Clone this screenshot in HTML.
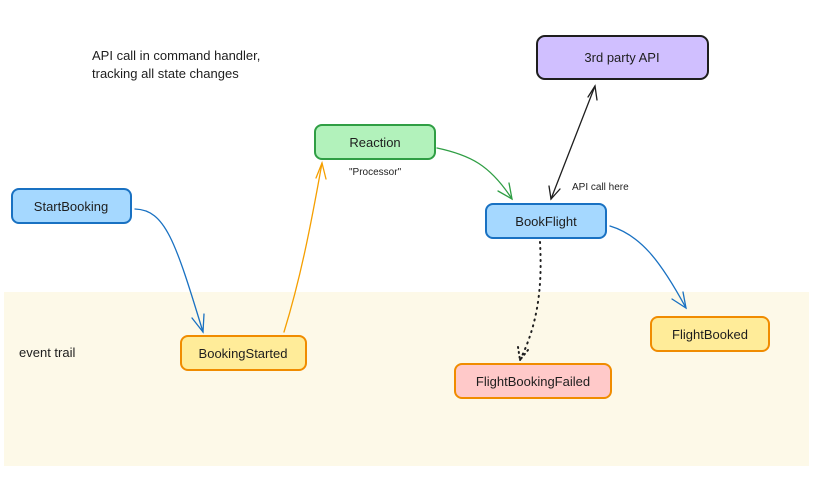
<!DOCTYPE html>
<html><head><meta charset="utf-8"><style>
html,body{margin:0;padding:0;background:#fff;}
body{width:814px;height:488px;overflow:hidden;}
svg text{font-family:"Liberation Sans",sans-serif;fill:#1e1e1e;}
</style></head><body>
<svg width="814" height="488" viewBox="0 0 814 488" xmlns="http://www.w3.org/2000/svg">
<rect x="0" y="0" width="814" height="488" fill="#fff"/>
<rect x="4" y="292" width="805" height="174" fill="#fdf9e8"/>
<text x="92" y="60" font-size="13">API call in command handler,</text>
<text x="92" y="78" font-size="13">tracking all state changes</text>
<text x="19" y="357" font-size="13">event trail</text>
<text x="349" y="175" font-size="10">"Processor"</text>
<text x="572" y="190" font-size="10">API call here</text>

<g stroke-width="2">
<rect x="537" y="36" width="171" height="43" rx="8" fill="#d0bfff" stroke="#1e1e1e"/>
<rect x="315" y="125" width="120" height="34" rx="7" fill="#b2f2bb" stroke="#2f9e44"/>
<rect x="12" y="189" width="119" height="34" rx="7" fill="#a5d8ff" stroke="#1971c2"/>
<rect x="486" y="204" width="120" height="34" rx="7" fill="#a5d8ff" stroke="#1971c2"/>
<rect x="181" y="336" width="125" height="34" rx="7" fill="#ffec99" stroke="#f08c00"/>
<rect x="651" y="317" width="118" height="34" rx="7" fill="#ffec99" stroke="#f08c00"/>
<rect x="455" y="364" width="156" height="34" rx="7" fill="#ffc9c9" stroke="#f08c00"/>
</g>
<g font-size="13" text-anchor="middle">
<text x="622" y="62">3rd party API</text>
<text x="375" y="147">Reaction</text>
<text x="71" y="211">StartBooking</text>
<text x="546" y="226">BookFlight</text>
<text x="243" y="358">BookingStarted</text>
<text x="710" y="339">FlightBooked</text>
<text x="533" y="386">FlightBookingFailed</text>
</g>

<g fill="none" stroke-width="1.3" stroke-linecap="round">
<path d="M135 209 C165 210 175 240 203 332" stroke="#1971c2"/>
<path d="M192 318 L203 332 L204 314" stroke="#1971c2"/>
<path d="M284 332 C300 280 310 230 322 163" stroke="#f59f00"/>
<path d="M316 178 L322 163 L326 179" stroke="#f59f00"/>
<path d="M437 148 C470 155 490 165 512 199" stroke="#2f9e44"/>
<path d="M498 191 L512 199 L509 183" stroke="#2f9e44"/>
<path d="M551 199 L595 86" stroke="#1e1e1e"/>
<path d="M549 186 L551 199 L560 189" stroke="#1e1e1e"/>
<path d="M588 97 L595 86 L597 100" stroke="#1e1e1e"/>
<path d="M610 226 C640 235 660 260 686 308" stroke="#1971c2"/>
<path d="M672 299 L686 308 L683 292" stroke="#1971c2"/>
<path d="M540 242 C542 280 540 320 520 360" stroke="#1e1e1e" stroke-width="2" stroke-dasharray="1 5"/>
<path d="M518 347 L520 360 L528 350" stroke="#1e1e1e" stroke-width="2" stroke-dasharray="1 4"/>
</g>
</svg>
</body></html>
